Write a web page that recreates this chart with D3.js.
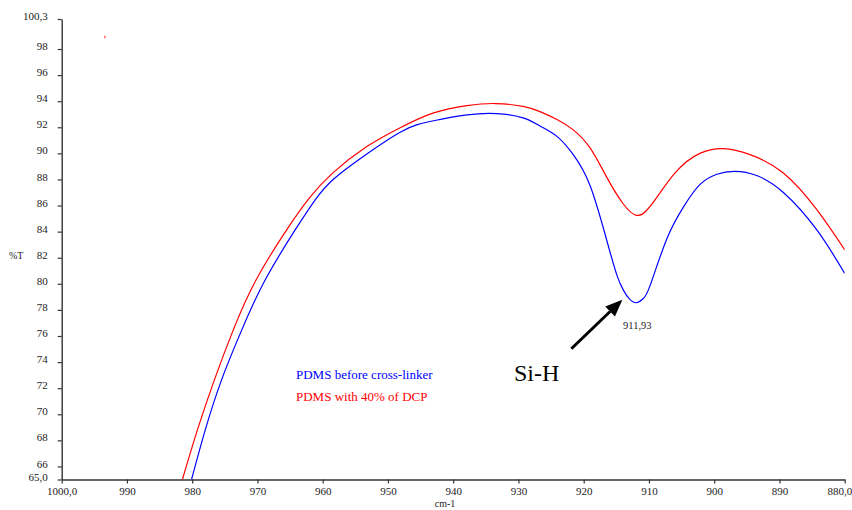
<!DOCTYPE html>
<html>
<head>
<meta charset="utf-8">
<script src="https://cdn.jsdelivr.net/npm/d3@7"></script>
<style>
  html, body { margin: 0; padding: 0; background: #fff; }
  svg { display: block; font-family: "Liberation Serif", "Times New Roman", serif; }
</style>
</head>
<body>
<svg id="chart" width="852" height="510"></svg>
<script>
// FTIR transmittance spectra, 1000–880 cm-1 window
const blueWave = [980.1, 978.0, 975.5, 972.4, 968.8, 964.2, 961.2, 958.4, 953.4, 948.2, 945.5, 943.0, 937.9, 933.3, 929.3, 926.7, 924.1, 921.6, 919.0, 916.5, 914.9, 913.9, 913.0, 911.93, 910.9, 909.8, 907.3, 904.7, 902.2, 899.6, 896.8, 893.5, 889.4, 884.3, 880.0];
const blueT    = [65.0, 68.8, 72.64, 76.47, 80.31, 84.15, 86.4, 88.0, 89.9, 91.6, 92.2, 92.5, 92.95, 93.05, 92.72, 92.1, 91.3, 89.9, 87.5, 83.4, 80.65, 79.5, 78.85, 78.55, 78.85, 79.9, 83.4, 85.9, 87.6, 88.4, 88.62, 88.3, 87.0, 84.15, 80.8];

const redWave = [981.5, 979.2, 976.6, 973.7, 970.2, 965.5, 962.0, 958.4, 953.3, 948.2, 943.0, 937.9, 933.5, 929.3, 926.7, 924.1, 921.6, 919.0, 916.5, 913.9, 911.9, 909.8, 906.0, 902.2, 898.6, 894.5, 889.4, 884.3, 880.0];
const redT    = [65.0, 68.8, 72.64, 76.47, 80.31, 84.15, 86.6, 88.52, 90.5, 91.95, 93.1, 93.66, 93.82, 93.6, 93.2, 92.6, 91.8, 90.4, 88.2, 86.1, 85.25, 85.95, 88.5, 90.0, 90.36, 89.9, 88.5, 85.7, 82.6];

// isolated red sample near the top-left
const redSpotWave = [993.4];
const redSpotT = [98.9];

const xTicks = [1000, 990, 980, 970, 960, 950, 940, 930, 920, 910, 900, 890, 880];
const xTickLabels = ["1000,0", "990", "980", "970", "960", "950", "940", "930", "920", "910", "900", "890", "880,0"];
const yTicks = [65, 66, 68, 70, 72, 74, 76, 78, 80, 82, 84, 86, 88, 90, 92, 94, 96, 98, 100.3];
const yTickLabels = ["65,0", "66", "68", "70", "72", "74", "76", "78", "80", "82", "84", "86", "88", "90", "92", "94", "96", "98", "100,3"];

const seriesNames = ["PDMS before cross-linker", "PDMS with 40% of DCP"];
const peakWave = 911.93;
const peakLabel = "911,93";
const bandLabel = "Si-H";

const serif = "Liberation Serif, Times New Roman, serif";
const svg = d3.select("#chart");
const x = d3.scaleLinear().domain([1000, 880]).range([61.7, 844.7]);
const y = d3.scaleLinear().domain([65, 100.3]).range([479.5, 19]);

svg.append("defs").append("clipPath").attr("id", "plotClip")
  .append("rect")
  .attr("x", x(1000)).attr("y", y(100.3))
  .attr("width", x(880) - x(1000)).attr("height", y(65) - y(100.3));

const axisColor = "#333";

// y axis
const yAxis = svg.append("g")
  .attr("transform", `translate(${x(1000)},0)`)
  .call(d3.axisLeft(y).tickValues(yTicks).tickSize(4).tickSizeOuter(0)
    .tickFormat((d, i) => yTickLabels[i]));
yAxis.select(".domain").attr("stroke", axisColor).attr("stroke-width", 1.4);
yAxis.selectAll(".tick line").attr("stroke", axisColor).attr("stroke-width", 1.2);
yAxis.selectAll(".tick text")
  .attr("fill", "#222").attr("font-size", "11px").attr("font-family", serif)
  .attr("x", -14).attr("dy", "0.05em");

// x axis
const xAxis = svg.append("g")
  .attr("transform", `translate(0,${y(65)})`)
  .call(d3.axisBottom(x).tickValues(xTicks).tickSize(4).tickSizeOuter(0)
    .tickFormat((d, i) => xTickLabels[i]));
xAxis.select(".domain").attr("stroke", axisColor).attr("stroke-width", 1.4);
xAxis.selectAll(".tick line").attr("stroke", axisColor).attr("stroke-width", 1.2);
xAxis.selectAll(".tick text")
  .attr("fill", "#222").attr("font-size", "11px").attr("font-family", serif)
  .attr("y", 8);
// keep the last label inside the frame
xAxis.selectAll(".tick text").filter(d => d === 880)
  .attr("text-anchor", "end").attr("x", 7);

// axis titles
svg.append("text").attr("x", 9).attr("y", 258.5).attr("font-family", serif)
  .attr("font-size", "10px").attr("fill", "#222").text("%T");
svg.append("text").attr("x", 445).attr("y", 507).attr("text-anchor", "middle")
  .attr("font-family", serif)
  .attr("font-size", "10px").attr("fill", "#222").text("cm-1");

// spectra
const line = d3.line()
  .x(d => x(d[0])).y(d => y(d[1]))
  .curve(d3.curveNatural);

const plot = svg.append("g").attr("clip-path", "url(#plotClip)");
const redPts = d3.zip(redWave, redT).sort((a, b) => a[0] - b[0]);
const bluePts = d3.zip(blueWave, blueT).sort((a, b) => a[0] - b[0]);

plot.append("path").datum(redPts)
  .attr("d", line).attr("fill", "none")
  .attr("stroke", "#ff0000").attr("stroke-width", 1.2);
plot.append("path").datum(bluePts)
  .attr("d", line).attr("fill", "none")
  .attr("stroke", "#0000ff").attr("stroke-width", 1.2);

plot.selectAll(".spot").data(d3.zip(redSpotWave, redSpotT)).join("rect")
  .attr("class", "spot")
  .attr("x", d => x(d[0]) - 0.5).attr("y", d => y(d[1]) - 1.5)
  .attr("width", 1.2).attr("height", 2.5)
  .attr("fill", "#ff4040");

// legend
svg.append("text").attr("x", 296).attr("y", 379).attr("font-family", serif)
  .attr("font-size", "13px").attr("fill", "#0000ff").text(seriesNames[0]);
svg.append("text").attr("x", 296).attr("y", 401).attr("font-family", serif)
  .attr("font-size", "13px").attr("fill", "#ff0000").text(seriesNames[1]);

// peak annotation
const peakIdx = blueWave.indexOf(peakWave);
const px = x(peakWave), py = y(blueT[peakIdx]);
svg.append("text").attr("x", px + 1).attr("y", py + 26).attr("text-anchor", "middle")
  .attr("font-family", serif)
  .attr("font-size", "10.5px").attr("fill", "#222").text(peakLabel);

svg.append("text").attr("x", 514).attr("y", 381).attr("font-family", serif)
  .attr("font-size", "24px").attr("fill", "#000").text(bandLabel);

// arrow pointing at the Si-H band
const tail = [px - 65, py + 46];
const tip = [px - 14, py - 3];
const ang = Math.atan2(tip[1] - tail[1], tip[0] - tail[0]);
const headLen = 17, headHalf = 7;
const base = [tip[0] - headLen * Math.cos(ang), tip[1] - headLen * Math.sin(ang)];
svg.append("line")
  .attr("x1", tail[0]).attr("y1", tail[1])
  .attr("x2", base[0]).attr("y2", base[1])
  .attr("stroke", "#000").attr("stroke-width", 3);
svg.append("path")
  .attr("d", d3.line()([
    tip,
    [base[0] + headHalf * Math.sin(ang), base[1] - headHalf * Math.cos(ang)],
    [base[0] - headHalf * Math.sin(ang), base[1] + headHalf * Math.cos(ang)]
  ]) + "Z")
  .attr("fill", "#000");
</script>
</body>
</html>
